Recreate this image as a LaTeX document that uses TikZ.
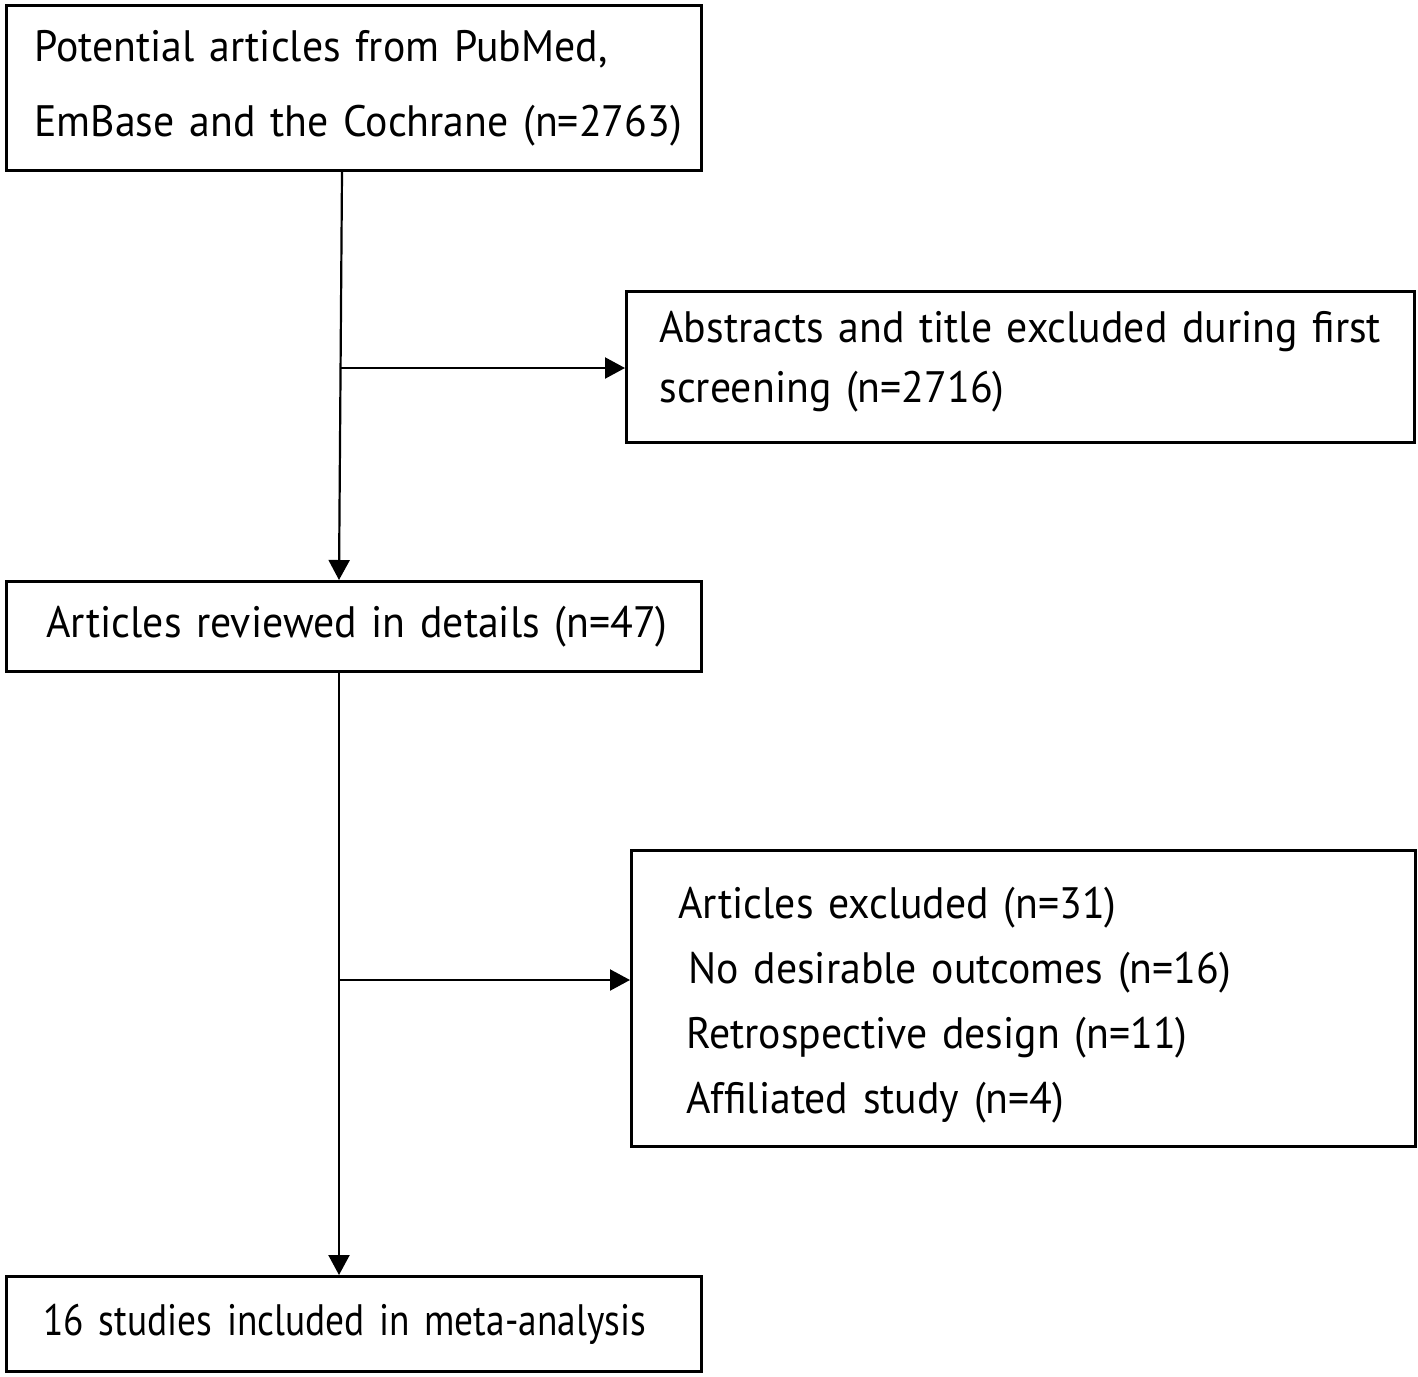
\documentclass[tikz,border=0pt]{standalone}
\usepackage{fontspec}
\setmainfont[FakeStretch=0.95]{PT Sans}
\newfontfamily\narrowsans[FakeStretch=0.85]{PT Sans}
\usetikzlibrary{arrows.meta,calc}
\begin{document}
\begin{tikzpicture}[x=1pt,y=-1pt,
  box/.style={draw,line width=3pt,anchor=north west,align=left,inner xsep=0pt,inner ysep=0pt,
    font=\fontsize{44}{60}\selectfont},
  arr/.style={line width=2.2pt,-{Triangle[width=21pt,length=20pt]}}]
\useasboundingbox (0,0) rectangle (1418,1376);
\node[box,minimum width=695pt,minimum height=165pt,text width=695pt] (b1) at (5,4)
  {\hspace*{28pt}Potential articles from PubMed,\\[15pt]\hspace*{28pt}EmBase and the Cochrane (n=2763)};
\node[box,minimum width=788pt,minimum height=151pt,text width=788pt] (b2) at (625,290)
  {\hspace*{33pt}Abstracts and title excluded during first\\\hspace*{33pt}screening (n=2716)\rule[-21pt]{0pt}{0pt}};
\node[box,minimum width=695pt,minimum height=90pt,text width=695pt] (b3) at (5,580)
  {\hspace*{40pt}Articles reviewed in details (n=47)};
\node[box,minimum width=784pt,minimum height=296pt,text width=784pt,font=\fontsize{44}{65}\selectfont] (b4) at (630,849)
  {\hspace*{47pt}\rule{0pt}{45pt}Articles excluded (n=31)\\\hspace*{57pt}No desirable outcomes (n=16)\\\hspace*{55pt}Retrospective design (n=11)\\\hspace*{55pt}Affiliated study (n=4)};
\node[box,minimum width=695pt,minimum height=95pt,text width=695pt,font=\narrowsans\fontsize{44}{60}\selectfont] (b5) at (5,1275)
  {\hspace*{37pt}\mbox{16 studies included in meta-analysis}};
\coordinate (j1) at (341,368);
\coordinate (j2) at (339,980);
\draw[arr] (b1.south -| 342,0) -- (b3.north -| 339,0);
\draw[arr] (j1) -- (j1 -| b2.west);
\draw[arr] (b3.south -| 339,0) -- (b5.north -| 339,0);
\draw[arr] (j2) -- (j2 -| b4.west);
\end{tikzpicture}
\end{document}
